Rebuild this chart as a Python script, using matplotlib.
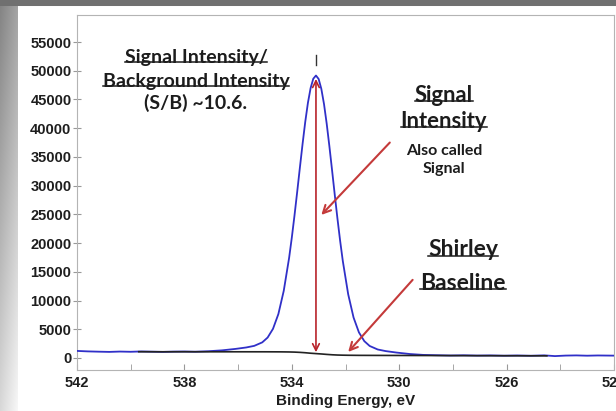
import matplotlib.pyplot as plt
import numpy as np
from matplotlib.lines import Line2D

# 数据：XPS O1s 谱
energy = [542.0, 541.6, 541.2, 540.8, 540.4, 540.0, 539.6, 539.2, 538.8, 538.4,
          538.0, 537.6, 537.1, 536.6, 536.1, 535.7, 535.4, 535.1, 534.9, 534.7,
          534.5, 534.3, 534.1, 534.0, 533.9, 533.8, 533.7, 533.6, 533.5, 533.4,
          533.3, 533.2, 533.1, 533.0, 532.9, 532.8, 532.7, 532.6, 532.5, 532.4,
          532.3, 532.2, 532.1, 531.9, 531.7, 531.5, 531.3, 531.1, 530.8, 530.5,
          530.1, 529.6, 529.1, 528.6, 528.1, 527.6, 527.1, 526.6, 526.1, 525.6,
          525.1, 524.6, 524.2, 523.8, 523.4, 523.0, 522.6, 522.0]
signal = [1230, 1150, 1100, 1060, 1120, 1080, 1140, 1100, 1060, 1110,
          1130, 1090, 1180, 1330, 1580, 1830, 2110, 2720, 3560, 5080,
          7650, 11690, 17430, 20940, 24790, 28880, 33090, 37210, 41070, 44400,
          46970, 48610, 49165, 48560, 46840, 44185, 40775, 36850, 32670, 28405,
          24275, 20400, 16870, 11095, 7045, 4458, 2935, 2092, 1480, 1198,
          945, 690, 535, 480, 430, 470, 420, 450, 400, 440,
          390, 460, 330, 420, 450, 400, 440, 410]

shirley_energy = [539.7, 539.0, 538.0, 537.0, 536.0, 535.0, 534.4, 534.1, 533.9, 533.7,
                  533.5, 533.3, 533.1, 532.9, 532.7, 532.5, 532.3, 532.1, 531.9, 531.5,
                  530.9, 530.0, 529.0, 528.0, 527.0, 526.0, 525.0, 524.5]
shirley = [1090, 1080, 1085, 1080, 1080, 1078, 1068, 1050, 1025, 980,
           915, 830, 765, 700, 625, 560, 515, 490, 475, 458,
           450, 440, 430, 415, 400, 390, 380, 375]

x_ticks = [542, 538, 534, 530, 526, 522]
y_ticks = list(range(0, 55001, 5000))

# 字体
ann_font = ['Lato', 'DejaVu Sans']
tick_font = ['Liberation Sans', 'DejaVu Sans']

fig = plt.figure(figsize=(6.16, 4.11), dpi=100)
fig.patch.set_facecolor('white')

# 背景：顶部灰条 + 左侧渐变
bg = fig.add_axes([0, 0, 1, 1], zorder=-10)
bg.axis('off')
H, W = 411, 616
img = np.ones((H, W, 3))
img[:7, :, :] = 0.44
yy = np.linspace(0.52, 0.85, H - 7)[:, None]
xx = np.linspace(0.0, 0.12, 18)[None, :]
img[7:, :18, :] = np.clip(yy + xx, 0, 1)[:, :, None]
bg.imshow(img, aspect='auto', extent=[0, 1, 0, 1], interpolation='bilinear')
bg.set_xlim(0, 1)
bg.set_ylim(0, 1)

# 主图
ax = fig.add_axes([77 / 616, 41 / 411, 537 / 616, 355 / 411])
ax.plot(energy, signal, color='#3030c8', lw=1.3, zorder=3)
ax.plot(shirley_energy, shirley, color='#222222', lw=1.2, zorder=4)

ax.set_xlim(542, 522)
ax.set_ylim(-2090, 59700)
ax.set_xticks(x_ticks)
ax.set_xticks(np.arange(522, 543, 2), minor=True)
ax.set_yticks(y_ticks)
for s in ax.spines.values():
    s.set_color('#b4b4b4')
    s.set_linewidth(0.8)
ax.tick_params(axis='x', which='both', direction='in', length=4, color='#999999', pad=4.5)
ax.tick_params(axis='y', direction='inout', length=6, color='#999999', pad=1)
for lab in ax.get_xticklabels() + ax.get_yticklabels():
    lab.set_family(tick_font)
    lab.set_fontweight('bold')
    lab.set_fontsize(10.5)
    lab.set_color('#1e1e1e')
ax.set_xlabel('Binding Energy, eV', family=tick_font, fontweight='bold',
              fontsize=11, color='#1e1e1e', labelpad=2.5)

# 箭头
peak_i = int(np.argmax(signal))
peak_e = energy[peak_i]
peak_top = signal[peak_i]
red = '#b8232a'
ax.annotate('', xy=(peak_e, peak_top - 600), xytext=(peak_e, 1000),
            arrowprops=dict(arrowstyle='<->', color=red, lw=1.2,
                            shrinkA=0, shrinkB=0, mutation_scale=12), zorder=5)
ax.plot([peak_e, peak_e], [peak_top + 1900, peak_top + 3500], color='#333333', lw=1)
ax.annotate('', xy=(532.9, 24900), xytext=(530.35, 37500),
            arrowprops=dict(arrowstyle='->', color='#c43a3a', lw=1.5,
                            shrinkA=0, shrinkB=0, mutation_scale=14), zorder=5)
ax.annotate('', xy=(531.9, 1050), xytext=(529.5, 13600),
            arrowprops=dict(arrowstyle='->', color='#c43a3a', lw=1.5,
                            shrinkA=0, shrinkB=0, mutation_scale=14), zorder=5)

# 文字
def px(x, y):
    return ((x - 77) / 537, (370 - y) / 355)

underlined = []
def note(x, y, s, size, ul=True):
    t = ax.text(*px(x, y), s, transform=ax.transAxes, ha='center', va='center',
                family=ann_font, fontweight='bold', fontsize=size, color='#1c1c1c')
    if ul:
        underlined.append(t)
    return t

note(196, 57, 'Signal Intensity/', 14)
note(196, 81, 'Background Intensity', 14)
note(196, 103, '(S/B) ~10.6.', 14, ul=False)
note(444, 95, 'Signal', 15.8)
note(444, 121, 'Intensity', 15.8)
note(444, 151, 'Also called', 11.5, ul=False)
note(444, 169, 'Signal', 11.5, ul=False)
note(463, 250, 'Shirley', 16.5)
note(463, 283, 'Baseline', 16.5)

fig.canvas.draw()
r = fig.canvas.get_renderer()
for t in underlined:
    bb = t.get_window_extent(r)
    yline = bb.y0 + 0.22 * bb.height
    fig.add_artist(Line2D([bb.x0 / W, bb.x1 / W], [yline / H, yline / H],
                          color='#1c1c1c', lw=1.1, transform=fig.transFigure))

fig.savefig('out.png', dpi=100)
